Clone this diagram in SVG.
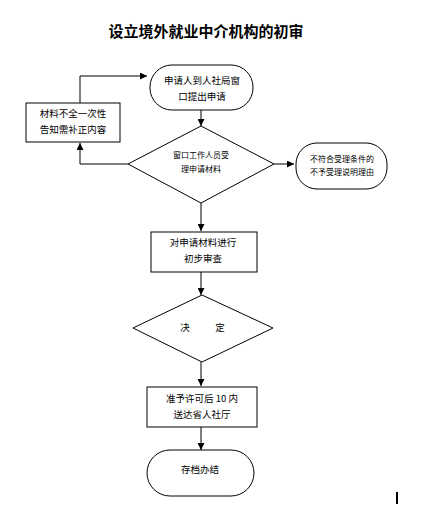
<svg xmlns="http://www.w3.org/2000/svg" width="432" height="505" viewBox="0 0 432 505">
<style>
.s{fill:#fff;stroke:#000;stroke-width:1}
.c{fill:none;stroke:#000;stroke-width:1}
.t{font-family:"Noto Sans CJK SC","Liberation Sans",sans-serif;font-size:9.5px;fill:#000;text-anchor:middle}
.sm{font-size:8px}
.ti{font-family:"Noto Sans CJK SC","Liberation Sans",sans-serif;font-size:15px;font-weight:bold;fill:#000;text-anchor:middle}
</style>
<defs>
<marker id="a" viewBox="0 0 10 10" refX="10" refY="5" markerWidth="7" markerHeight="7" markerUnits="userSpaceOnUse" orient="auto">
<path d="M0,0L10,5L0,10z" fill="#000"/>
</marker>
</defs>
<rect width="432" height="505" fill="#fff"/>
<text class="ti" x="206" y="37">设立境外就业中介机构的初审</text>
<g id="connectors">
<path class="c" d="M80,103V76H147" marker-end="url(#a)"/>
<path class="c" d="M201,110V126" marker-end="url(#a)"/>
<path class="c" d="M128,164H80V143" marker-end="url(#a)"/>
<path class="c" d="M274,164H294" marker-end="url(#a)"/>
<path class="c" d="M201,203V231" marker-end="url(#a)"/>
<path class="c" d="M201,272V295" marker-end="url(#a)"/>
<path class="c" d="M201,362V386" marker-end="url(#a)"/>
<path class="c" d="M201,427V450" marker-end="url(#a)"/>
</g>
<g id="start">
<rect class="s" x="150" y="65" width="103" height="45" rx="22" ry="22"/>
<text class="t" x="202" y="84">申请人到人社局窗</text>
<text class="t" x="202" y="100">口提出申请</text>
</g>
<g id="supplement">
<rect class="s" x="26" y="103" width="94" height="39"/>
<text class="t" x="73" y="117">材料不全一次性</text>
<text class="t" x="73" y="133">告知需补正内容</text>
</g>
<g id="accept">
<path class="s" d="M201,126L274,164L201,203L128,164z"/>
<text class="t sm" x="201" y="158">窗口工作人员受</text>
<text class="t sm" x="201" y="172">理申请材料</text>
</g>
<g id="reject">
<rect class="s" x="296" y="143" width="91" height="46" rx="21" ry="21"/>
<text class="t sm" x="342" y="162">不符合受理条件的</text>
<text class="t sm" x="342" y="175">不予受理说明理由</text>
</g>
<g id="review">
<rect class="s" x="151" y="232" width="106" height="40"/>
<text class="t" x="203" y="246">对申请材料进行</text>
<text class="t" x="203" y="262">初步审查</text>
</g>
<g id="decide">
<path class="s" d="M202,295L273,328L202,362L133,328z"/>
<text class="t" x="185" y="331">决</text>
<text class="t" x="220" y="331">定</text>
</g>
<g id="approve">
<rect class="s" x="147" y="387" width="110" height="40"/>
<text class="t" x="202" y="402">准予许可后 10 内</text>
<text class="t" x="202" y="418">送达省人社厅</text>
</g>
<g id="end">
<rect class="s" x="147" y="450" width="107" height="46" rx="23" ry="23"/>
<text class="t" x="200" y="473">存档办结</text>
</g>
<rect x="396" y="492" width="2" height="12" fill="#000"/>
</svg>
